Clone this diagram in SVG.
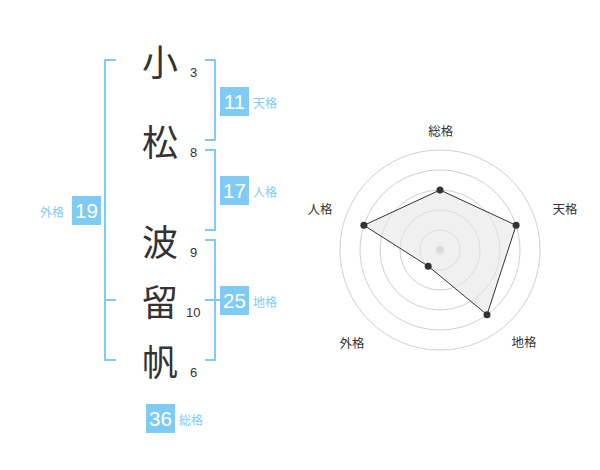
<svg xmlns="http://www.w3.org/2000/svg" width="600" height="470" viewBox="0 0 600 470">
<style>
.kanji{font-family:"Noto Sans CJK JP","Noto Sans CJK SC",sans-serif;font-size:36px;fill:#333;text-anchor:middle;dominant-baseline:central}
.stroke{font-family:"Liberation Sans",Arial,sans-serif;font-size:13px;fill:#333}
.br{fill:none;stroke:#80cbf5;stroke-width:2}
.box{fill:#80cbf5}
.num{font-family:"Liberation Sans",Arial,sans-serif;font-size:20.5px;fill:#fff;text-anchor:middle;dominant-baseline:central}
.lab{font-family:"Noto Sans CJK JP","Noto Sans CJK SC",sans-serif;font-size:12px;fill:#80cbf5;dominant-baseline:central}
.ring{fill:none;stroke:#cfcfcf;stroke-width:1}
.rlab{font-family:"Noto Sans CJK JP","Noto Sans CJK SC",sans-serif;font-size:12.5px;fill:#333;text-anchor:middle;dominant-baseline:central}
.pt{fill:#333}
</style>
<rect width="600" height="470" fill="#fff"/>
<g id="connectors">
<path class="br" d="M116,60 H105 V360 H116 M105,300 H116"/>
<path class="br" d="M205,60 H215 V140 H205"/>
<path class="br" d="M205,150 H215 V230 H205"/>
<path class="br" d="M205,240 H215 V360 H205 M205,300 H220"/>
</g>
<g id="char-1"><text class="kanji" x="160" y="60">小</text><text class="stroke" x="190" y="77">3</text></g>
<g id="char-2"><text class="kanji" x="160" y="140">松</text><text class="stroke" x="190" y="157">8</text></g>
<g id="char-3"><text class="kanji" x="160" y="240">波</text><text class="stroke" x="190" y="257">9</text></g>
<g id="char-4"><text class="kanji" x="160" y="300">留</text><text class="stroke" x="186" y="317">10</text></g>
<g id="char-5"><text class="kanji" x="160" y="360">帆</text><text class="stroke" x="190" y="377">6</text></g>
<g id="tenkaku"><rect class="box" x="220" y="87" width="29" height="29"/><text class="num" x="234.5" y="101.5">11</text><text class="lab" x="253" y="102">天格</text></g>
<g id="jinkaku"><rect class="box" x="220" y="176" width="29" height="29"/><text class="num" x="234.5" y="190.5">17</text><text class="lab" x="253" y="191">人格</text></g>
<g id="chikaku"><rect class="box" x="220" y="286" width="29" height="29"/><text class="num" x="234.5" y="300.5">25</text><text class="lab" x="253" y="301">地格</text></g>
<g id="gaikaku"><rect class="box" x="72" y="196" width="29" height="29"/><text class="num" x="86.5" y="210.5">19</text><text class="lab" x="40" y="211">外格</text></g>
<g id="soukaku"><rect class="box" x="146" y="404" width="29" height="29"/><text class="num" x="160.5" y="418.5">36</text><text class="lab" x="179" y="419">総格</text></g>
<g id="radar">
<circle class="ring" cx="440" cy="250" r="20"/>
<circle class="ring" cx="440" cy="250" r="40"/>
<circle class="ring" cx="440" cy="250" r="60"/>
<circle class="ring" cx="440" cy="250" r="80"/>
<circle class="ring" cx="440" cy="250" r="100"/>
<circle cx="440" cy="250" r="4" fill="#ccc"/>
<polygon points="440,190 516.1,225.3 487,314.7 428.2,266.2 363.9,225.3" fill="#e6e6e6" fill-opacity="0.6" stroke="#333" stroke-width="1"/>
<circle class="pt" cx="440" cy="190" r="3.5"/>
<circle class="pt" cx="516.1" cy="225.3" r="3.5"/>
<circle class="pt" cx="487" cy="314.7" r="3.5"/>
<circle class="pt" cx="428.2" cy="266.2" r="3.5"/>
<circle class="pt" cx="363.9" cy="225.3" r="3.5"/>
<text class="rlab" x="440.7" y="130">総格</text>
<text class="rlab" x="565" y="208">天格</text>
<text class="rlab" x="524" y="341">地格</text>
<text class="rlab" x="352" y="342">外格</text>
<text class="rlab" x="320" y="208">人格</text>
</g>
</svg>
